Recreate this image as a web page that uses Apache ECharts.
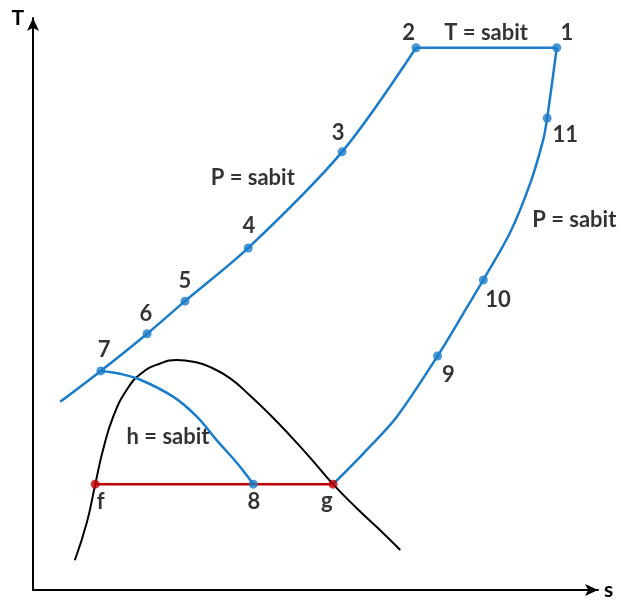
<!DOCTYPE html>
<html>
<head>
<meta charset="utf-8">
<script src="https://cdn.jsdelivr.net/npm/echarts@6/dist/echarts.min.js"></script>
<style>
  html, body { margin: 0; padding: 0; background: #fff; }
  #chart { width: 623px; height: 606px; }
</style>
</head>
<body>
<div id="chart"></div>
<script>
// T-s diagram, s and T in arbitrary units 0..100
const blue = '#1b7cc9';
const red = '#c00000';

// state points [s, T]
const pointNames = ['1', '2', '3', '4', '5', '6', '7', '8', '9', '10', '11'];
const pointValues = [
    [92.7, 94.8], [67.8, 94.8], [54.7, 76.6], [38.1, 59.8], [26.9, 50.5],
    [20.2, 44.8], [12.0, 38.3], [39.0, 18.5], [71.6, 40.9], [79.7, 54.2], [91.0, 82.5]
];
const satPoints = [[11.0, 18.5], [53.1, 18.5]]; // f, g

// curves
const highPressure = [[4.8, 32.9], [12.0, 38.3], [20.2, 44.8], [26.9, 50.5], [38.1, 59.8], [54.7, 76.6], [67.8, 94.8]];
const constTemp = [[67.8, 94.8], [92.7, 94.8]];
const lowPressure = [[53.1, 18.5], [58.5, 23.9], [64.4, 30.3], [71.6, 40.9], [76.2, 48.4], [79.7, 54.2],
    [84.4, 62.4], [88.0, 71.1], [90.3, 78.7], [91.0, 82.5], [92.7, 94.8]];
const throttle = [[12.0, 38.3], [15.4, 37.8], [18.9, 36.8], [24.8, 33.8], [29.0, 30.3], [32.5, 26.2], [36.1, 22.2], [39.0, 18.5]];
const dome = [[7.4, 5.2], [9.5, 11.7], [11.0, 18.4], [12.4, 24.5], [14.2, 30.3], [16.6, 35.0], [19.2, 37.9],
    [22.5, 39.6], [25.4, 40.2], [28.4, 39.9], [31.3, 39.0], [34.9, 37.0], [38.4, 34.0], [42.0, 30.6],
    [45.5, 27.0], [49.0, 23.2], [53.1, 18.5], [57.3, 14.3], [61.4, 10.5], [65.0, 7.0]];
const evaporation = [[11.0, 18.5], [53.1, 18.5]];

// text labels [s, T, text]
const labels = [
    [94.5, 97.4, '1'], [66.5, 97.4, '2'], [80.2, 97.4, 'T = sabit'], [54.0, 79.9, '3'],
    [94.2, 79.5, '11'], [95.8, 64.7, 'P = sabit'], [38.9, 72.0, 'P = sabit'], [38.2, 63.6, '4'],
    [26.9, 54.0, '5'], [20.0, 48.3, '6'], [12.6, 42.0, '7'], [82.3, 50.7, '10'], [73.5, 37.6, '9'],
    [23.9, 26.7, 'h = sabit'], [12.0, 15.4, 'f'], [39.1, 15.4, '8'], [52.0, 15.6, 'g']
];

const font = 'Lato, "Open Sans", sans-serif';

const curve = (data, color, extra) => Object.assign({
    type: 'line',
    data: data,
    showSymbol: false,
    symbol: 'none',
    smooth: 0.3,
    lineStyle: { color: color, width: 2.5 },
    silent: true,
    z: 2
}, extra || {});

const axisLine = {
    show: true,
    symbol: ['none', 'arrow'],
    symbolSize: [9, 13],
    lineStyle: { color: '#000', width: 2 }
};

const chart = echarts.init(document.getElementById('chart'));

const option = {
    animation: false,
    textStyle: { fontFamily: font },
    grid: { left: 33, right: 25, top: 18, bottom: 16 },
    xAxis: {
        type: 'value',
        min: 0,
        max: 100,
        name: 's',
        nameGap: 6,
        nameTextStyle: { fontFamily: font, fontWeight: 'bold', fontSize: 21, color: '#000', verticalAlign: 'middle', align: 'left' },
        axisLine: axisLine,
        axisTick: { show: false },
        axisLabel: { show: false },
        splitLine: { show: false }
    },
    yAxis: {
        type: 'value',
        min: 0,
        max: 100,
        name: 'T',
        nameGap: 0,
        nameTextStyle: { fontFamily: font, fontWeight: 'bold', fontSize: 21, color: '#000', align: 'right', verticalAlign: 'middle', padding: [0, 9, 2, 0] },
        axisLine: axisLine,
        axisTick: { show: false },
        axisLabel: { show: false },
        splitLine: { show: false }
    },
    series: [
        curve(dome, '#000', { smooth: 0.5, lineStyle: { color: '#000', width: 2 } }),
        curve(highPressure, blue),
        curve(constTemp, blue, { smooth: false }),
        curve(lowPressure, blue),
        curve(throttle, blue, { smooth: 0.4 }),
        curve(evaporation, red, { smooth: false }),
        {
            type: 'scatter',
            data: pointValues.map((v, i) => ({ name: pointNames[i], value: v })),
            symbolSize: 9,
            itemStyle: { color: blue },
            z: 5
        },
        {
            type: 'scatter',
            data: satPoints,
            symbolSize: 9,
            itemStyle: { color: red },
            z: 5
        },
        {
            type: 'scatter',
            data: labels,
            symbolSize: 0,
            silent: true,
            label: {
                show: true,
                position: 'inside',
                formatter: p => p.data[2],
                fontFamily: font,
                fontWeight: 'bold',
                fontSize: 22,
                color: '#000'
            },
            z: 6
        }
    ]
};

chart.setOption(option);
</script>
</body>
</html>
